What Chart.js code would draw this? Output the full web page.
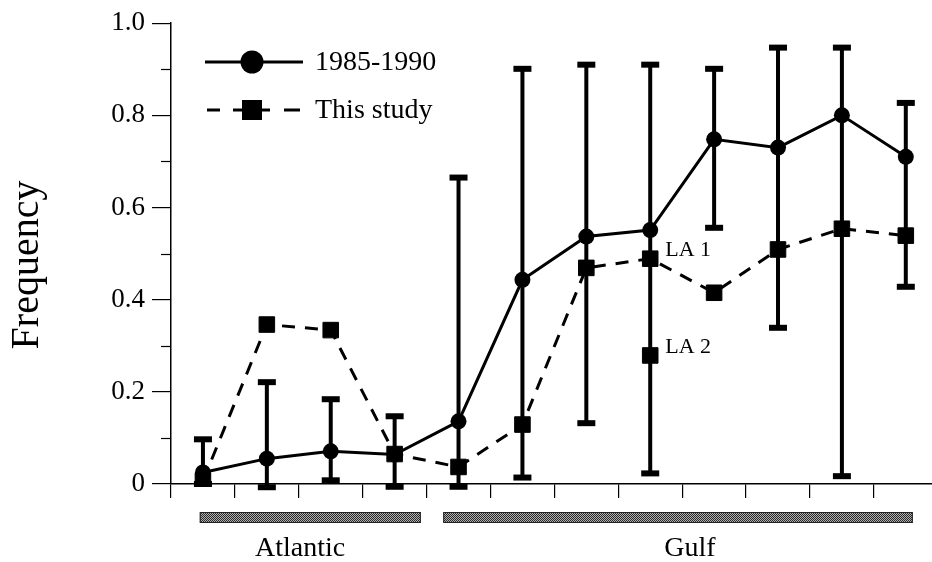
<!DOCTYPE html>
<html>
<head>
<meta charset="utf-8">
<script src="https://cdn.jsdelivr.net/npm/chart.js@4.4.0/dist/chart.umd.min.js"></script>
<style>
html, body { margin: 0; padding: 0; background: #fff; overflow: hidden; }
canvas { display: block; }
</style>
</head>
<body>
<canvas id="chart" width="932" height="562"></canvas>
<script>
// Sampling sites along the coast, Atlantic ones first, then the Gulf
const sites = [1, 2, 3, 4, 5, 6, 7, 8, 9, 10, 11, 12];

// 1985-1990 frequencies with their ranges
const hist = [0.025, 0.055, 0.071, 0.064, 0.136, 0.443, 0.537, 0.551, 0.748, 0.730, 0.800, 0.710];
const histLow = [0.0, -0.007, 0.008, -0.006, -0.006, 0.014, 0.132, 0.023, 0.556, 0.339, 0.017, 0.428];
const histHigh = [0.097, 0.221, 0.184, 0.147, 0.665, 0.901, 0.910, 0.910, 0.901, 0.947, 0.947, 0.827];

// this study
const study = [0.007, 0.346, 0.334, 0.065, 0.037, 0.129, 0.469, 0.489, 0.415, 0.509, 0.554, 0.539];

// second Louisiana sample (not joined to the line)
const extraSites = [8];
const extraValues = [0.279];
const siteNotes = { 8: ['LA 1', 'LA 2'] };

// regions under the axis, in site units
const regions = ['Atlantic', 'Gulf'];
const regionStart = [0.45, 4.26];
const regionEnd = [3.91, 11.61];
const regionLabelAt = [2.02, 8.12];

const yTickLabels = ['0', '0.2', '0.4', '0.6', '0.8', '1.0'];

const INK = '#000';
const SERIF = '"Liberation Serif", "DejaVu Serif", serif';

/**
 * Stippled grey fill for the region bars
 */
function makeStipple() {
    const c = document.createElement('canvas');
    c.width = 2;
    c.height = 2;
    const g = c.getContext('2d');
    g.fillStyle = '#b0b0b0';
    g.fillRect(0, 0, 2, 2);
    g.fillStyle = '#2a2a2a';
    g.fillRect(0, 0, 1, 1);
    g.fillRect(1, 1, 1, 1);
    return document.getElementById('chart').getContext('2d').createPattern(c, 'repeat');
}

const overlay = {
    id: 'overlay',
    beforeDatasetsDraw(chart) {
        const { ctx, scales: { x, y } } = chart;
        ctx.save();
        ctx.fillStyle = INK;
        ctx.strokeStyle = INK;
        ctx.lineWidth = 4;
        sites.forEach((s, i) => {
            const px = x.getPixelForValue(s - 0.5);
            const lo = y.getPixelForValue(histLow[i]);
            const hi = y.getPixelForValue(histHigh[i]);
            ctx.beginPath();
            ctx.moveTo(px, lo);
            ctx.lineTo(px, hi);
            ctx.stroke();
            ctx.fillRect(px - 9, hi - 3, 18, 6);
            ctx.fillRect(px - 9, lo - 3, 18, 6);
        });
        ctx.restore();
    },
    afterDraw(chart) {
        const { ctx, chartArea, scales: { x, y } } = chart;
        ctx.save();

        // minor ticks on the y axis, halfway between labelled ones
        ctx.strokeStyle = INK;
        ctx.lineWidth = 1.2;
        const ticks = y.ticks.map(t => t.value);
        for (let i = 0; i < ticks.length - 1; i++) {
            const py = Math.round(y.getPixelForValue((ticks[i] + ticks[i + 1]) / 2)) + 0.5;
            ctx.beginPath();
            ctx.moveTo(chartArea.left - 10, py);
            ctx.lineTo(chartArea.left, py);
            ctx.stroke();
        }

        // y axis title
        ctx.fillStyle = INK;
        ctx.font = '40px ' + SERIF;
        ctx.textAlign = 'center';
        ctx.textBaseline = 'alphabetic';
        ctx.translate(38, 265);
        ctx.rotate(-Math.PI / 2);
        ctx.fillText('Frequency', 0, 0);
        ctx.setTransform(1, 0, 0, 1, 0, 0);

        // legend
        const ds = chart.data.datasets;
        [[ds[1], 62], [ds[0], 110]].forEach(([d, ly]) => {
            ctx.strokeStyle = INK;
            ctx.lineWidth = 3;
            ctx.beginPath();
            if (d.borderDash) {
                ctx.moveTo(207, ly); ctx.lineTo(220, ly);
                ctx.moveTo(233, ly); ctx.lineTo(270, ly);
                ctx.moveTo(284, ly); ctx.lineTo(300, ly);
            } else {
                ctx.moveTo(205, ly); ctx.lineTo(303, ly);
            }
            ctx.stroke();
            ctx.fillStyle = INK;
            if (d.pointStyle === 'circle') {
                ctx.beginPath();
                ctx.arc(252, ly, 11.5, 0, Math.PI * 2);
                ctx.fill();
            } else {
                ctx.fillRect(242, ly - 10, 20, 20);
            }
            ctx.font = '28px ' + SERIF;
            ctx.textAlign = 'left';
            ctx.textBaseline = 'middle';
            ctx.fillText(d.label, 315, ly + 1);
        });

        // LA 1 / LA 2 notes
        ctx.font = '22px ' + SERIF;
        ctx.textAlign = 'left';
        ctx.textBaseline = 'middle';
        Object.keys(siteNotes).forEach(k => {
            const s = Number(k);
            const px = x.getPixelForValue(s - 0.5);
            const idx = sites.indexOf(s);
            const vals = [study[idx], extraValues[extraSites.indexOf(s)]];
            siteNotes[k].forEach((txt, j) => {
                ctx.fillText(txt, px + 15, y.getPixelForValue(vals[j]) - 8);
            });
        });

        // region bars and names
        const stipple = makeStipple();
        regions.forEach((name, i) => {
            const x0 = x.getPixelForValue(regionStart[i]);
            const x1 = x.getPixelForValue(regionEnd[i]);
            ctx.fillStyle = stipple;
            ctx.fillRect(x0, 512, x1 - x0, 11);
            ctx.strokeStyle = '#222';
            ctx.lineWidth = 1;
            ctx.strokeRect(x0 + 0.5, 512.5, x1 - x0 - 1, 10);
            ctx.fillStyle = INK;
            ctx.font = '28px ' + SERIF;
            ctx.textAlign = 'center';
            ctx.textBaseline = 'alphabetic';
            ctx.fillText(name, x.getPixelForValue(regionLabelAt[i]), 556);
        });

        ctx.restore();
    }
};

new Chart(document.getElementById('chart'), {
    type: 'line',
    data: {
        datasets: [
            {
                label: 'This study',
                data: sites.map((s, i) => ({ x: s - 0.5, y: study[i] })),
                borderColor: INK,
                backgroundColor: INK,
                borderWidth: 3,
                borderDash: [13, 10],
                pointStyle: 'rect',
                pointRadius: 11,
                pointBorderWidth: 1,
                tension: 0
            },
            {
                label: '1985-1990',
                data: sites.map((s, i) => ({ x: s - 0.5, y: hist[i] })),
                borderColor: INK,
                backgroundColor: INK,
                borderWidth: 3,
                pointStyle: 'circle',
                pointRadius: 8,
                pointBorderWidth: 0,
                tension: 0
            },
            {
                label: 'LA 2',
                data: extraSites.map((s, i) => ({ x: s - 0.5, y: extraValues[i] })),
                showLine: false,
                borderColor: INK,
                backgroundColor: INK,
                pointStyle: 'rect',
                pointRadius: 11,
                pointBorderWidth: 1
            }
        ]
    },
    options: {
        responsive: false,
        animation: false,
        events: [],
        layout: { autoPadding: false, padding: { top: 18, right: 0, left: 0, bottom: 0 } },
        plugins: {
            legend: { display: false },
            tooltip: { enabled: false }
        },
        scales: {
            x: {
                type: 'linear',
                min: 0,
                max: 11.91,
                afterFit: scale => { scale.height = 78; },
                border: { display: true, color: INK, width: 1.5 },
                grid: { drawOnChartArea: false, drawTicks: true, tickLength: 14, color: INK, lineWidth: 1.2 },
                ticks: { stepSize: 1, includeBounds: false, display: false }
            },
            y: {
                min: 0,
                max: 1,
                afterFit: scale => { scale.width = 171; },
                border: { display: true, color: INK, width: 1.5 },
                grid: { drawOnChartArea: false, drawTicks: true, tickLength: 19, color: INK, lineWidth: 1.2 },
                ticks: {
                    stepSize: 0.2,
                    padding: 7,
                    color: INK,
                    font: { family: SERIF, size: 27 },
                    callback: v => yTickLabels[Math.round(v * 5)]
                }
            }
        }
    },
    plugins: [overlay]
});
</script>
</body>
</html>
